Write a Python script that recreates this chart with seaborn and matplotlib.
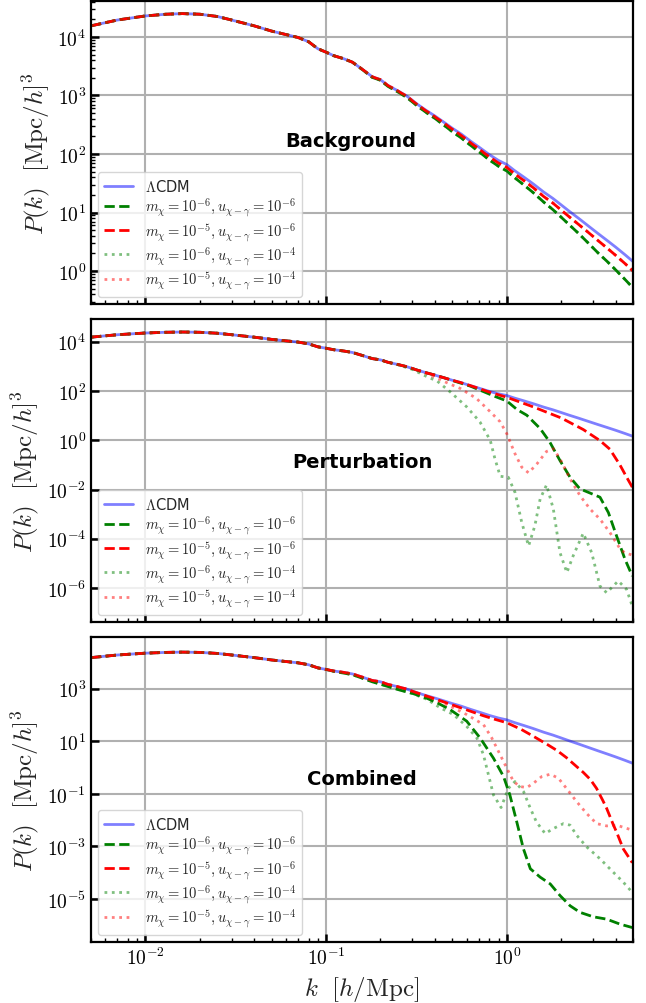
import matplotlib
matplotlib.use("Agg")
import math
import matplotlib.pyplot as plt
import matplotlib.ticker as mticker
import seaborn as sns
import pandas as pd

# ---------------- data ----------------
k_lcdm = [0.005, 0.007, 0.01, 0.013, 0.016, 0.02, 0.025, 0.03, 0.04, 0.05, 0.06, 0.07,
          0.08, 0.09, 0.1, 0.11, 0.125, 0.14, 0.16, 0.18, 0.2, 0.22, 0.25, 0.28, 0.32,
          0.36, 0.4, 0.45, 0.5, 0.56, 0.63, 0.7, 0.8, 0.9, 1.0, 1.1, 1.25, 1.4, 1.6,
          1.8, 2.0, 2.2, 2.5, 2.8, 3.2, 3.6, 4.0, 4.5, 5.0]
p_lcdm = [1.55e4, 1.95e4, 2.29e4, 2.45e4, 2.51e4, 2.45e4, 2.24e4, 1.95e4, 1.55e4, 1.26e4,
          1.10e4, 9.8e3, 8.3e3, 6.3e3, 5.5e3, 4.8e3, 4.26e3, 3.7e3, 2.75e3, 2.09e3, 1.86e3,
          1.48e3, 1.20e3, 977, 708, 550, 447, 347, 275, 219, 166, 132, 97.7, 77.6, 66.1,
          52.5, 39.8, 30.9, 22.4, 17.4, 13.5, 10.7, 7.94, 6.03, 4.37, 3.31, 2.57, 1.91, 1.45]

# Background panel
k_bg = [0.16, 0.18, 0.2, 0.22, 0.25, 0.28, 0.32, 0.36, 0.4, 0.45, 0.5, 0.56, 0.63, 0.7,
        0.8, 0.9, 1.0, 1.1, 1.25, 1.4, 1.6, 1.8, 2.0, 2.2, 2.5, 2.8, 3.2, 3.6, 4.0, 4.5, 5.0]
p_bg_m6 = [2720, 2040, 1820, 1430, 1150, 923, 661, 507, 407, 309, 240, 188, 141, 110,
           79.4, 61.7, 51.3, 39.8, 29.2, 21.9, 15.1, 11.2, 8.32, 6.31, 4.37, 3.09, 2.04,
           1.45, 1.05, 0.724, 0.513]
p_bg_m5 = [2750, 2090, 1860, 1480, 1190, 966, 692, 537, 432, 335, 263, 207, 155, 122,
           89.1, 70.0, 58.9, 46.2, 34.7, 26.6, 18.8, 14.5, 11.0, 8.61, 6.24, 4.68, 3.31,
           2.45, 1.86, 1.35, 1.00]

# Perturbation panel
k_pt_m6u6 = [0.5, 0.63, 0.743, 0.862, 1.0, 1.14, 1.29, 1.53, 1.73, 1.97, 2.24, 2.54,
             2.89, 3.28, 3.65, 4.05, 4.51, 4.95]
p_pt_m6u6 = [269, 158, 95.5, 60.3, 39.8, 17.8, 10.5, 3.02, 0.851, 0.151, 0.0316, 0.0107,
             7.24e-3, 4.90e-3, 1.17e-3, 1.32e-4, 1.48e-5, 3.09e-6]
k_pt_m5u6 = [0.7, 0.8, 1.0, 1.4, 2.0, 2.65, 3.28, 3.72, 4.23, 4.6, 5.0]
p_pt_m5u6 = [129, 91.2, 56.2, 22.9, 8.13, 2.75, 0.977, 0.437, 0.1, 0.0324, 0.011]
k_pt_m6u4 = [0.25, 0.30, 0.37, 0.41, 0.486, 0.60, 0.71, 0.81, 0.86, 0.92, 1.02, 1.11,
             1.21, 1.32, 1.43, 1.53, 1.66, 1.81, 1.97, 2.15, 2.33, 2.65, 2.95, 3.28,
             3.57, 4.14, 4.60, 4.95]
p_pt_m6u4 = [1175, 759, 355, 263, 93.3, 22.9, 5.62, 1.0, 0.178, 0.0347, 0.0316, 7.76e-3,
             4.68e-4, 5.13e-5, 3.39e-4, 4.17e-3, 0.0155, 1.62e-3, 2.75e-5, 4.27e-6,
             2.04e-5, 1.70e-4, 2.75e-5, 1.2e-6, 6.46e-7, 1.95e-6, 8.9e-7, 1.86e-7]
k_pt_m5u4 = [0.30, 0.35, 0.41, 0.466, 0.552, 0.68, 0.81, 0.92, 1.0, 1.11, 1.21, 1.32,
             1.47, 1.66, 1.81, 1.97, 2.24, 2.54, 2.89, 3.28, 3.72, 4.23, 4.5, 4.95]
p_pt_m5u4 = [832, 562, 339, 219, 129, 50.1, 14.5, 5.62, 1.86, 0.288, 0.0813, 0.0479,
             0.112, 0.355, 0.457, 0.178, 0.0275, 5.75e-3, 1.62e-3, 6.31e-4, 1.82e-4,
             3.98e-5, 2.69e-5, 2.19e-5]

# Combined panel
k_cb_m6u6 = [0.11, 0.14, 0.18, 0.22, 0.257, 0.30, 0.362, 0.42, 0.486, 0.60, 0.712, 0.844,
             0.96, 1.04, 1.136, 1.236, 1.35, 1.53, 1.74, 1.97, 2.24, 2.54, 3.01, 3.57,
             4.23, 4.95]
p_cb_m6u6 = [4680, 3470, 1860, 1230, 891, 676, 437, 275, 162, 58.9, 13.5, 2.29, 0.457,
             0.0912, 8.51e-3, 8.13e-4, 1.41e-4, 6.76e-5, 3.72e-5, 1.35e-5, 5.5e-6,
             3.09e-6, 2.09e-6, 1.70e-6, 1.10e-6, 8.13e-7]
k_cb_m5u6 = [0.3, 0.4, 0.5, 0.6, 0.74, 0.86, 1.0, 1.2, 1.4, 1.66, 1.9, 2.14, 2.4, 2.65,
             2.9, 3.14, 3.4, 3.57, 3.9, 4.05, 4.41, 4.95]
p_cb_m5u6 = [813, 417, 245, 158, 95.5, 69.2, 51.3, 28.8, 15.8, 7.94, 4.47, 2.40, 1.20,
             0.661, 0.355, 0.162, 0.0562, 0.0282, 6.31e-3, 3.55e-3, 8.13e-4, 2.40e-4]
k_cb_m6u4 = [0.11, 0.14, 0.18, 0.22, 0.257, 0.30, 0.362, 0.428, 0.507, 0.60, 0.683, 0.743,
             0.792, 0.844, 0.93, 1.02, 1.11, 1.24, 1.35, 1.46, 1.63, 1.81, 2.06, 2.24,
             2.44, 2.77, 3.28, 3.88, 4.41, 4.95]
p_cb_m6u4 = [4680, 3470, 1910, 1260, 912, 661, 398, 191, 105, 37.2, 13.5, 3.09, 0.525,
             0.0912, 0.0302, 0.162, 0.295, 0.120, 0.0282, 8.51e-3, 3.09e-3, 4.79e-3,
             7.41e-3, 6.46e-3, 2.63e-3, 9.55e-4, 3.39e-4, 1.05e-4, 4.37e-5, 1.78e-5]
k_cb_m5u4 = [0.3, 0.4, 0.486, 0.60, 0.743, 0.826, 0.919, 1.0, 1.09, 1.185, 1.29, 1.40,
             1.56, 1.74, 1.93, 2.14, 2.44, 2.77, 3.14, 3.57, 4.05, 4.95]
p_cb_m5u4 = [794, 398, 219, 105, 43.7, 13.5, 3.09, 0.955, 0.295, 0.191, 0.174, 0.251,
             0.457, 0.562, 0.398, 0.162, 0.0501, 0.0178, 7.41e-3, 6.03e-3, 6.46e-3, 4.17e-3]

labels = [r"$\Lambda$CDM",
          r"$m_\chi=10^{-6}, u_{\chi-\gamma}=10^{-6}$",
          r"$m_\chi=10^{-5}, u_{\chi-\gamma}=10^{-6}$",
          r"$m_\chi=10^{-6}, u_{\chi-\gamma}=10^{-4}$",
          r"$m_\chi=10^{-5}, u_{\chi-\gamma}=10^{-4}$"]
panel_titles = ["Background", "Perturbation", "Combined"]
x_ticks = [1e-2, 1e-1, 1e0]


def extend(kv, pv):
    """Variant curves coincide with LCDM below their first read point."""
    ks = [k for k in k_lcdm if k < kv[0]] + list(kv)
    ps = [p for k, p in zip(k_lcdm, p_lcdm) if k < kv[0]] + list(pv)
    return ks, ps


def pow10(v, pos=None):
    return r"$10^{%d}$" % int(round(math.log10(v)))


panels = [
    [(k_bg, p_bg_m6), (k_bg, p_bg_m5), (k_bg, p_bg_m6), (k_bg, p_bg_m5)],
    [(k_pt_m6u6, p_pt_m6u6), (k_pt_m5u6, p_pt_m5u6), (k_pt_m6u4, p_pt_m6u4), (k_pt_m5u4, p_pt_m5u4)],
    [(k_cb_m6u6, p_cb_m6u6), (k_cb_m5u6, p_cb_m5u6), (k_cb_m6u4, p_cb_m6u4), (k_cb_m5u4, p_cb_m5u4)],
]

# ---------------- style ----------------
sns.set_theme(style="ticks")
plt.rcParams.update({
    "font.family": ["DejaVu Sans"],
    "mathtext.fontset": "cm",
    "axes.edgecolor": "black",
    "axes.linewidth": 1.6,
    "xtick.direction": "in",
    "ytick.direction": "in",
    "xtick.major.size": 6, "xtick.major.width": 1.8,
    "ytick.major.size": 6, "ytick.major.width": 1.8,
    "xtick.minor.size": 3, "xtick.minor.width": 1.0,
    "ytick.minor.size": 3, "ytick.minor.width": 1.0,
    "xtick.color": "black", "ytick.color": "black",
    "xtick.labelsize": 14, "ytick.labelsize": 14,
})

styles = [
    dict(color="blue", ls="-", lw=2, alpha=0.5),
    dict(color="green", ls="--", lw=2, alpha=1.0),
    dict(color="red", ls="--", lw=2, alpha=1.0),
    dict(color="green", ls=":", lw=2, alpha=0.5),
    dict(color="red", ls=":", lw=2, alpha=0.5),
]

fig = plt.figure(figsize=(6.46, 10.04), dpi=100)
rects = [
    [0.1409, 0.6962, 0.8391, 0.3018],
    [0.1409, 0.3795, 0.8391, 0.3018],
    [0.1409, 0.0608, 0.8391, 0.3038],
]
ylims = [(0.273, 4.12e4), (4.2e-8, 8.5e4), (2.3e-7, 9.5e4)]
yticks = [[1, 10, 100, 1e3, 1e4],
          [1e-6, 1e-4, 1e-2, 1, 1e2, 1e4],
          [1e-5, 1e-3, 1e-1, 10, 1e3]]
title_pos = [(0.48, 0.54), (0.5, 0.53), (0.5, 0.535)]

for i, (rect, curves) in enumerate(zip(rects, panels)):
    ax = fig.add_axes(rect)
    ax.set_xscale("log")
    ax.set_yscale("log")
    data = [(k_lcdm, p_lcdm)] + [extend(kv, pv) for kv, pv in curves]
    for (ks, ps), st, lab in zip(data, styles, labels):
        df = pd.DataFrame({"k": ks, "P": ps})
        sns.lineplot(data=df, x="k", y="P", ax=ax, estimator=None, sort=True,
                     color=st["color"], linestyle=st["ls"], linewidth=st["lw"],
                     alpha=st["alpha"], label=lab)
    ax.set_xlim(0.005, 5)
    ax.set_ylim(*ylims[i])
    ax.set_yticks(yticks[i])
    ax.set_xticks(x_ticks)
    ax.xaxis.set_minor_locator(mticker.LogLocator(base=10, subs=range(2, 10), numticks=20))
    ax.xaxis.set_minor_formatter(mticker.NullFormatter())
    ax.yaxis.set_minor_formatter(mticker.NullFormatter())
    ax.xaxis.set_major_formatter(mticker.FuncFormatter(pow10))
    ax.yaxis.set_major_formatter(mticker.FuncFormatter(pow10))
    if i == 0:
        ax.yaxis.set_minor_locator(mticker.LogLocator(base=10, subs=range(2, 10), numticks=20))
    else:
        ax.yaxis.set_minor_locator(mticker.NullLocator())
    ax.grid(True, which="major", color="#b0b0b0", linewidth=1.5)
    ax.set_axisbelow(True)
    ax.set_ylabel(r"$P(k)\ \ [\mathrm{Mpc}/h]^3$", fontsize=18)
    if i < 2:
        ax.tick_params(axis="x", which="both", labelbottom=False)
        ax.set_xlabel("")
    else:
        ax.set_xlabel(r"$k\ \ [h/\mathrm{Mpc}]$", fontsize=18)
    ax.legend(loc="lower left", fontsize=10.5, frameon=True, fancybox=True,
              framealpha=0.8, edgecolor="#cccccc", labelspacing=0.12)
    ax.text(title_pos[i][0], title_pos[i][1], panel_titles[i], transform=ax.transAxes,
            ha="center", va="center", fontsize=14, fontweight="bold", color="black")
    for s in ax.spines.values():
        s.set_visible(True)
        s.set_color("black")

fig.savefig("out.png", dpi=100)
